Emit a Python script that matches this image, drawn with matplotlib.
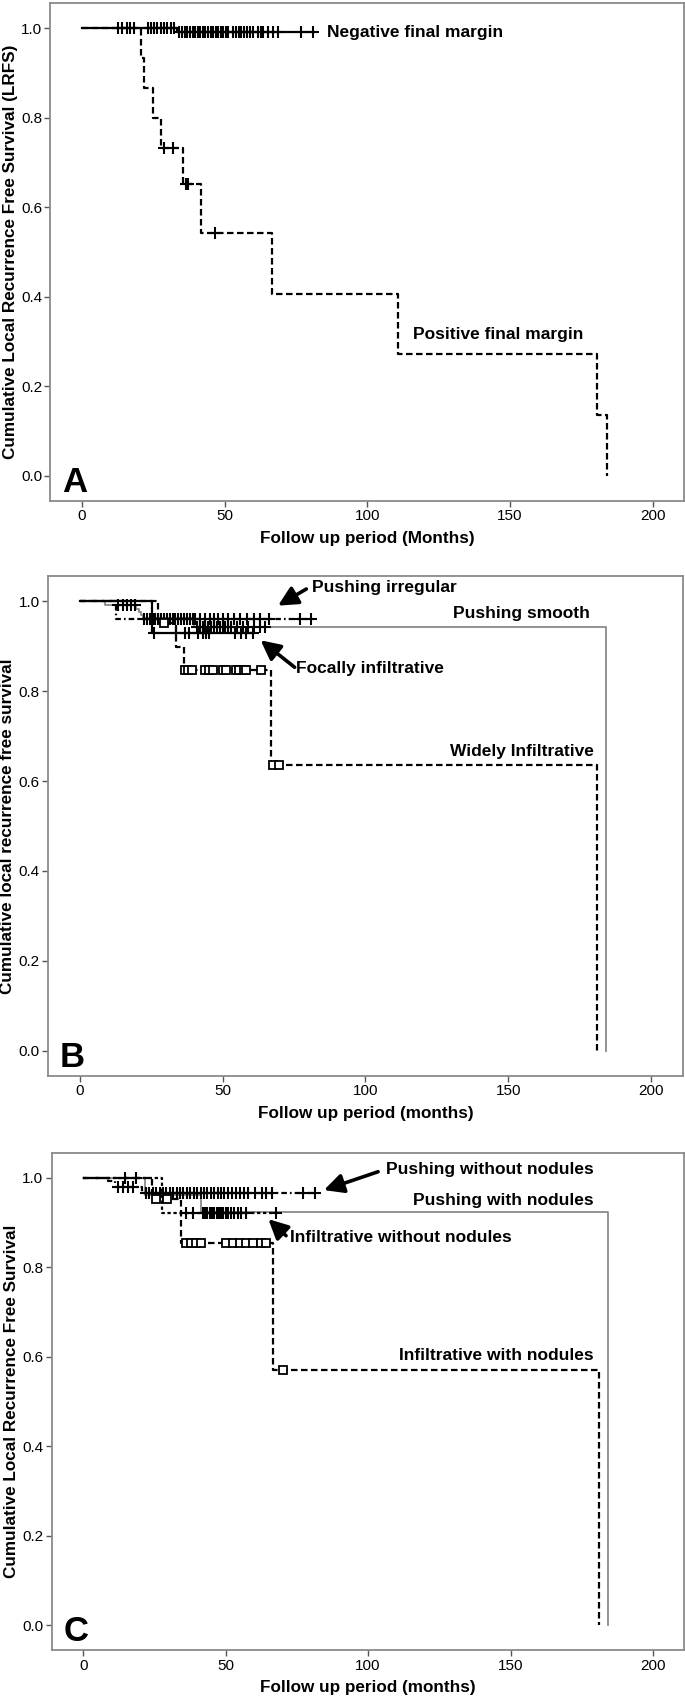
import numpy as np
import matplotlib
matplotlib.use('Agg')
import matplotlib.pyplot as plt

plt.rcParams['font.family'] = ['Liberation Sans', 'DejaVu Sans']
plt.rcParams['lines.scale_dashes'] = False

# ---------------- Panel A : final margin ----------------
a_neg_t = [0, 33.2]
a_neg_s = [1.0, 0.991]
a_neg_end = 81.5
a_neg_cens = [12.8, 14.0, 15.7, 16.9, 18.3, 23.0, 24.1, 25.3, 26.5, 27.6, 28.8, 30.0, 31.1, 32.3,
              34.0, 35.0, 36.0, 37.0, 37.9, 38.8, 39.7, 40.6, 41.5, 42.4, 43.3, 44.2, 45.1, 46.0,
              46.9, 47.8, 48.7, 49.6, 50.5, 51.3, 52.9, 53.9, 54.9, 55.9, 56.9, 57.9, 58.9, 59.9,
              61.6, 62.6, 63.5, 65.1, 66.9, 68.6, 76.8, 80.9]

a_pos_t = [0, 20.8, 21.6, 24.8, 27.6, 35.6, 41.8, 66.8, 110.9, 180.5, 183.9]
a_pos_s = [1.0, 0.933, 0.867, 0.800, 0.733, 0.652, 0.543, 0.407, 0.272, 0.136, 0.0]
a_pos_cens = [28.8, 31.8, 36.5, 37.3, 46.7]

# ---------------- Panel B : tumour border ----------------
b_smooth_t = [0, 8.7, 19.8, 20.6, 21.4, 22.1, 40.0, 184.1]
b_smooth_s = [1.0, 0.991, 0.983, 0.976, 0.970, 0.963, 0.942, 0.0]
b_smooth_cens = [13.5, 15.0, 16.5, 18.0, 19.2, 41, 42, 43, 44, 45, 46, 47, 48, 49, 50, 51, 52,
                 53, 55, 57, 59, 61, 63, 65]

b_irreg_t = [0, 12.7]
b_irreg_s = [1.0, 0.961]
b_irreg_end = 81.0
b_irreg_cens = [22.5, 23.5, 24.5, 25.5, 26.5, 27.5, 28.5, 29.5, 30.5, 31.5, 32.5, 33.5, 34.5,
                35.5, 36.5, 37.5, 38.5, 39.5, 40.5, 42.0, 44.0, 45.5, 47.0, 48.5, 50.0, 52.0,
                54.0, 56.0, 58.5, 61.0, 63.0, 66.4, 77.0, 81.0]

b_focal_t = [0, 25.4]
b_focal_s = [1.0, 0.930]
b_focal_end = 60.6
b_focal_cens = [26.0, 33.8, 36.7, 38.2, 41.3, 43.0, 44.2, 45.4, 54.2, 56.5, 58.3, 60.6]

b_wide_t = [0, 27.5, 33.8, 36.5, 66.9, 181.0]
b_wide_s = [1.0, 0.952, 0.899, 0.846, 0.635, 0.0]
b_wide_cens = [29.5, 36.7, 37.8, 39.4, 43.9, 45.4, 46.6, 50.1, 51.3, 54.8, 55.9, 57.4, 58.3,
               63.3, 67.8, 69.8]

# ---------------- Panel C : border + nodules ----------------
c_pwo_t = [0, 8.7, 11.1, 20.5]
c_pwo_s = [1.0, 0.993, 0.979, 0.966]
c_pwo_end = 81.3
c_pwo_cens = [12.2, 14.0, 15.8, 17.5, 22.0, 23.2, 24.4, 25.6, 26.8, 28.0, 29.2, 30.4, 31.6,
              32.8, 34.0, 35.2, 36.4, 37.6, 38.8, 40.0, 41.2, 42.4, 43.6, 44.8, 46.0, 47.2,
              48.4, 49.6, 51.0, 52.4, 53.8, 55.2, 56.6, 58.0, 60.2, 62.6, 64.3, 66.1, 77.3, 81.3]

c_pw_t = [0, 21.6, 41.5, 184.0]
c_pw_s = [1.0, 0.963, 0.925, 0.0]

c_iwo_t = [0, 27.5]
c_iwo_s = [1.0, 0.921]
c_iwo_end = 67.8
c_iwo_cens = [14.6, 18.7, 36.2, 38.6, 42.0, 42.8, 43.6, 44.4, 45.2, 46.0, 46.8, 47.6, 48.4,
              49.2, 50.0, 51.0, 52.0, 53.0, 54.5, 55.5, 57.3, 67.8]

c_iw_t = [0, 24.2, 34.5, 66.6, 181.0]
c_iw_s = [1.0, 0.953, 0.855, 0.570, 0.0]
c_iw_cens = [25.5, 29.5, 36.2, 38.0, 39.7, 41.5, 50.3, 52.6, 54.9, 57.3, 59.6, 62.5, 64.3, 70.0]

x_ticks = [0, 50, 100, 150, 200]
y_ticks = [0.0, 0.2, 0.4, 0.6, 0.8, 1.0]

DASH = (0, (4.7, 2.5))
DASHDOT = (0, (4.0, 2.2, 1.2, 2.2))
DOT = (0, (2.4, 1.9))
GRAY = '#8a8a8a'


def km(ax, t, s, end=None, cens=(), color='black', ls='-', lw=1.6, marker='+'):
    tt = list(t)
    ss = list(s)
    if end is not None:
        tt.append(end)
        ss.append(s[-1])
    ax.step(tt, ss, where='post', color=color, linestyle=ls, lw=lw)
    if len(cens):
        idx = np.searchsorted(np.array(t), np.array(cens), side='right') - 1
        cy = [s[i] for i in idx]
        if marker == 's':
            ax.plot(cens, cy, ls='none', marker='s', ms=6, mfc='white', mec='black', mew=1.3)
        else:
            ax.plot(cens, cy, ls='none', marker='+', ms=9, mec='black', mew=1.5)


def setup(ax, ylabel, xlabel, letter):
    ax.set_xlim(-11, 211)
    ax.set_ylim(-0.056, 1.056)
    ax.set_xticks(x_ticks)
    ax.set_yticks(y_ticks)
    ax.set_yticklabels(['%.1f' % v for v in y_ticks])
    for sp in ax.spines.values():
        sp.set_color(GRAY)
        sp.set_linewidth(1.3)
    ax.tick_params(direction='out', length=4, width=1, color='#555555', labelsize=11, pad=2)
    ax.set_ylabel(ylabel, fontsize=12.3, fontweight='bold')
    ax.yaxis.set_label_coords(-0.052, 0.5)
    ax.set_xlabel(xlabel, fontsize=12.3, fontweight='bold')
    ax.xaxis.set_label_coords(0.5, -0.06)
    ax.text(-7.0, -0.035, letter, fontsize=25, fontweight='bold', va='baseline')


def label(ax, x, y, s, ha='left'):
    ax.text(x, y, s, fontsize=12.5, fontweight='bold', ha=ha, va='center')


def arrow(ax, head, tail):
    ax.annotate('', xy=head, xytext=tail,
                arrowprops=dict(arrowstyle='-|>,head_length=0.9,head_width=0.45',
                                color='black', lw=2.6, mutation_scale=13, shrinkA=0, shrinkB=0))


fig = plt.figure(figsize=(6.85, 16.98), dpi=100)

# Panel A
ax = fig.add_axes([0.0737, 0.7049, 0.9248, 0.2933])
km(ax, a_neg_t, a_neg_s, a_neg_end, a_neg_cens)
km(ax, a_pos_t, a_pos_s, None, a_pos_cens, ls=DASH)
setup(ax, 'Cumulative Local Recurrence Free Survival (LRFS)', 'Follow up period (Months)', 'A')
label(ax, 85.9, 0.99, 'Negative final margin')
label(ax, 115.9, 0.315, 'Positive final margin')

# Panel B
ax = fig.add_axes([0.0705, 0.3663, 0.926, 0.2945])
km(ax, b_smooth_t, b_smooth_s, None, b_smooth_cens, color=GRAY, lw=1.3)
km(ax, b_irreg_t, b_irreg_s, b_irreg_end, b_irreg_cens, ls=DASHDOT)
km(ax, b_focal_t, b_focal_s, b_focal_end, b_focal_cens)
km(ax, b_wide_t, b_wide_s, None, b_wide_cens, ls=DASH, marker='s')
setup(ax, 'Cumulative local recurrence free survival', 'Follow up period (months)', 'B')
label(ax, 81.4, 1.030, 'Pushing irregular')
label(ax, 178.7, 0.972, 'Pushing smooth', ha='right')
label(ax, 75.8, 0.851, 'Focally infiltrative')
label(ax, 180.0, 0.666, 'Widely Infiltrative', ha='right')
arrow(ax, (69.4, 0.990), (79.3, 1.027))
arrow(ax, (63.3, 0.913), (75.2, 0.853))

# Panel C
ax = fig.add_axes([0.0756, 0.0280, 0.9236, 0.2930])
km(ax, c_pw_t, c_pw_s, None, (), color=GRAY, lw=1.3)
km(ax, c_pwo_t, c_pwo_s, c_pwo_end, c_pwo_cens, ls=DASHDOT)
km(ax, c_iwo_t, c_iwo_s, c_iwo_end, c_iwo_cens, ls=DOT)
km(ax, c_iw_t, c_iw_s, None, c_iw_cens, ls=DASH, marker='s')
setup(ax, 'Cumulative Local Recurrence Free Survival', 'Follow up period (months)', 'C')
label(ax, 179.0, 1.019, 'Pushing without nodules', ha='right')
label(ax, 179.0, 0.950, 'Pushing with nodules', ha='right')
label(ax, 72.6, 0.866, 'Infiltrative without nodules')
label(ax, 179.0, 0.603, 'Infiltrative with nodules', ha='right')
arrow(ax, (84.5, 0.973), (103.5, 1.014))
arrow(ax, (65.0, 0.908), (71.2, 0.871))

fig.savefig('out.png', dpi=100)
